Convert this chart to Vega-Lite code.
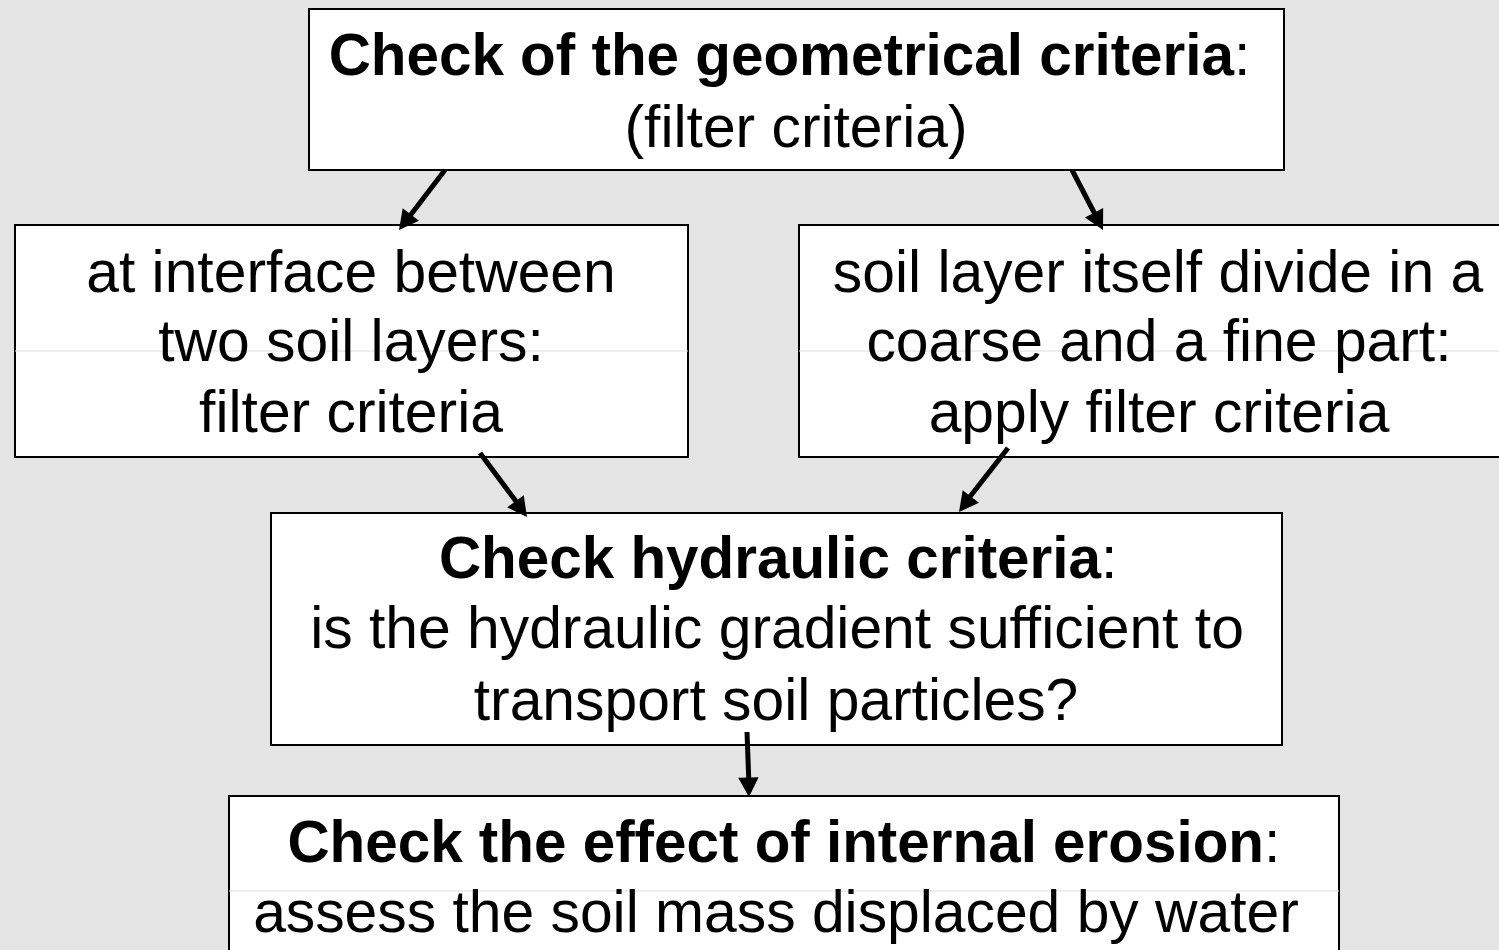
{
  "$schema": "https://vega.github.io/schema/vega-lite/v6.json",
  "width": 1499,
  "height": 950,
  "autosize": "none",
  "padding": 0,
  "background": "#e4e4e4",
  "config": {"view": {"stroke": null}, "axis": {"disable": true}},
  "datasets": {
    "boxes": [
      {"x": 309, "x2": 1284, "y": 9, "y2": 170},
      {"x": 15, "x2": 688, "y": 225, "y2": 457},
      {"x": 799, "x2": 1520, "y": 225, "y2": 457},
      {"x": 271, "x2": 1282, "y": 513, "y2": 745},
      {"x": 229, "x2": 1339, "y": 796, "y2": 975}
    ],
    "faint": [
      {"x": 15, "x2": 688, "y": 351},
      {"x": 799, "x2": 1499, "y": 351},
      {"x": 229, "x2": 1339, "y": 891}
    ],
    "arrows": [
      {"x": 445, "y": 170, "x2": 406, "y2": 221, "tx": 399, "ty": 230, "ang": 37.4},
      {"x": 1072, "y": 170, "x2": 1098, "y2": 220, "tx": 1103, "ty": 230, "ang": 332.7},
      {"x": 480, "y": 453, "x2": 521, "y2": 508, "tx": 527, "ty": 517, "ang": 323.7},
      {"x": 1008, "y": 448, "x2": 965, "y2": 503, "tx": 959, "ty": 512, "ang": 37.4},
      {"x": 747, "y": 732, "x2": 749, "y2": 786, "tx": 749, "ty": 797, "ang": 358.2}
    ],
    "lines": [
      {"text": "(filter criteria)", "x": 796, "y": 147},
      {"text": "at interface between", "x": 351, "y": 292},
      {"text": "two soil layers:", "x": 351, "y": 361},
      {"text": "filter criteria", "x": 351, "y": 432},
      {"text": "soil layer itself divide in a", "x": 1158, "y": 292},
      {"text": "coarse and a fine part:", "x": 1159, "y": 361},
      {"text": "apply filter criteria", "x": 1159, "y": 432},
      {"text": "is the hydraulic gradient sufficient to", "x": 777, "y": 648},
      {"text": "transport soil particles?", "x": 776, "y": 720},
      {"text": "assess the soil mass displaced by water", "x": 776, "y": 932}
    ],
    "heads": [
      {"text": "Check of the geometrical criteria", "x": 1234, "y": 75},
      {"text": "Check hydraulic criteria", "x": 1101, "y": 578},
      {"text": "Check the effect of internal erosion", "x": 1264, "y": 862}
    ]
  },
  "layer": [
    {
      "data": {"name": "boxes"},
      "mark": {"type": "rect", "fill": "#ffffff", "stroke": "#000000", "strokeWidth": 2},
      "encoding": {
        "x": {"field": "x", "type": "quantitative", "scale": {"domain": [0, 1499], "nice": false, "zero": false}},
        "x2": {"field": "x2"},
        "y": {"field": "y", "type": "quantitative", "scale": {"domain": [0, 950], "nice": false, "zero": false, "reverse": true}},
        "y2": {"field": "y2"}
      }
    },
    {
      "data": {"name": "faint"},
      "mark": {"type": "rule", "stroke": "#dedede", "strokeWidth": 1},
      "encoding": {
        "x": {"field": "x", "type": "quantitative"},
        "x2": {"field": "x2"},
        "y": {"field": "y", "type": "quantitative"}
      }
    },
    {
      "data": {"name": "arrows"},
      "mark": {"type": "rule", "stroke": "#000000", "strokeWidth": 5},
      "encoding": {
        "x": {"field": "x", "type": "quantitative"},
        "x2": {"field": "x2"},
        "y": {"field": "y", "type": "quantitative"},
        "y2": {"field": "y2"}
      }
    },
    {
      "data": {"name": "arrows"},
      "mark": {"type": "point", "shape": "M0,0L-1,-1.9L1,-1.9Z", "filled": true, "fill": "#000000", "stroke": null, "opacity": 1, "size": 420},
      "encoding": {
        "x": {"field": "tx", "type": "quantitative"},
        "y": {"field": "ty", "type": "quantitative"},
        "angle": {"field": "ang", "type": "quantitative", "scale": null}
      }
    },
    {
      "data": {"name": "lines"},
      "mark": {"type": "text", "font": "Liberation Sans", "fontSize": 58.8, "align": "center", "baseline": "alphabetic", "color": "#000000"},
      "encoding": {
        "x": {"field": "x", "type": "quantitative"},
        "y": {"field": "y", "type": "quantitative"},
        "text": {"field": "text"}
      }
    },
    {
      "data": {"name": "heads"},
      "mark": {"type": "text", "font": "Liberation Sans", "fontSize": 58.4, "fontWeight": "bold", "align": "right", "baseline": "alphabetic", "color": "#000000"},
      "encoding": {
        "x": {"field": "x", "type": "quantitative"},
        "y": {"field": "y", "type": "quantitative"},
        "text": {"field": "text"}
      }
    },
    {
      "data": {"name": "heads"},
      "mark": {"type": "text", "font": "Liberation Sans", "fontSize": 58.8, "align": "left", "baseline": "alphabetic", "color": "#000000", "text": ":"},
      "encoding": {
        "x": {"field": "x", "type": "quantitative"},
        "y": {"field": "y", "type": "quantitative"}
      }
    }
  ]
}
